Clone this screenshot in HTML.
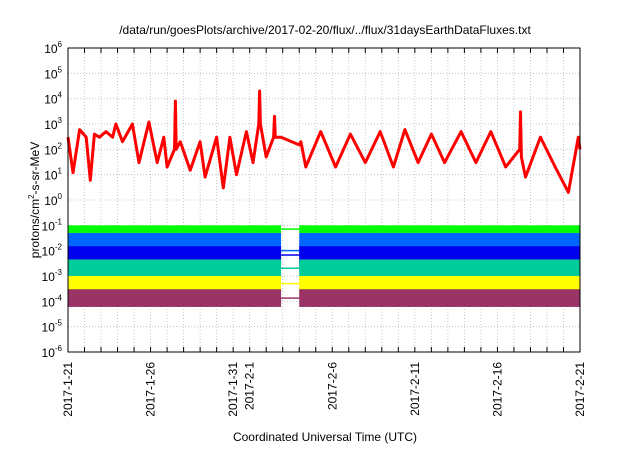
<!DOCTYPE html>
<html><head><meta charset="utf-8"><style>
body{margin:0;background:#fff}
svg{font-family:"Liberation Sans",sans-serif}
</style></head><body>
<svg id="c" width="640" height="448" viewBox="0 0 640 448">
<text x="325" y="34" font-size="12" text-anchor="middle">/data/run/goesPlots/archive/2017-02-20/flux/../flux/31daysEarthDataFluxes.txt</text>
<text transform="translate(39,200) rotate(-90)" font-size="12" text-anchor="middle">protons/cm<tspan dy="-5" font-size="8">2</tspan><tspan dy="5">-s-sr-MeV</tspan></text>
<text x="325" y="441" font-size="12" text-anchor="middle">Coordinated Universal Time (UTC)</text>
<g id="grid"></g><g id="bands"></g><g id="series"></g><g id="axes"></g>
</svg>
<script>
const redT=[0,0.3,0.7,1.1,1.35,1.6,1.9,2.3,2.7,2.9,3.3,3.9,4.3,4.9,5.4,5.8,6,6.45,6.5,6.55,6.8,7.4,8,8.3,9,9.4,9.8,10.2,10.8,11.2,11.55,11.6,11.65,12,12.45,12.5,12.55,12.9,14,14.1,14.4,15.3,16.2,17.1,18,18.9,19.7,20.4,21.2,22,22.8,23.8,24.7,25.6,26.5,27.35,27.4,27.45,27.7,28.6,29.5,30.3,30.9,31];
const redV=[300,12,600,300,6,400,300,500,300,1000,200,1000,30,1200,30,300,20,100,8000,100,200,15,200,8,300,3,300,10,500,30,1000,20000,1000,50,300,2000,300,300,150,200,20,500,20,400,30,500,20,600,30,400,30,500,30,500,20,100,3000,50,8,300,20,2,300,100];
const bandNames=["green","light-blue","dark-blue","teal","yellow","purple"];
const bandColors=["#00ff00","#0066ff","#0000ee","#00cc99","#ffff00","#993366"];
const bandTop=[0.1,0.05,0.015,0.0045,0.001,0.0003];
const bandBottom=[0.05,0.002,0.003,0.0009,0.00025,0.00006];
const gapStart=12.9, gapEnd=14;
const xTickDays=[0,5,10,11,16,21,26,31];
const xTickLabels=["2017-1-21","2017-1-26","2017-1-31","2017-2-1","2017-2-6","2017-2-11","2017-2-16","2017-2-21"];
const yExps=[-6,-5,-4,-3,-2,-1,0,1,2,3,4,5,6];
const NS="http://www.w3.org/2000/svg";
const L=68,R=580,T=48,B=352;
const x=d=>L+(R-L)*d/31;
const y=v=>B-(B-T)*(Math.log10(v)+6)/12;
function mk(p,t,a){const e=document.createElementNS(NS,t);for(const k in a)e.setAttribute(k,a[k]);document.getElementById(p).appendChild(e);return e;}
for(let d=0;d<=31;d++){
 const g=mk('grid','line',{x1:x(d),x2:x(d),y1:T,y2:B,stroke:'#bbb','stroke-dasharray':'1,2','stroke-width':0.8});
 
 
 const t1=mk('axes','line',{x1:x(d),x2:x(d),y1:B,y2:B-5,stroke:'#000'});
 
 
 const t2=mk('axes','line',{x1:x(d),x2:x(d),y1:T,y2:T+5,stroke:'#000'});
 
 
}
yExps.forEach(e=>{
 const v=Math.pow(10,e);
 const g=mk('grid','line',{x1:L,x2:R,y1:y(v),y2:y(v),stroke:'#bbb','stroke-dasharray':'1,2','stroke-width':0.8});
 
 
 const t=mk('axes','text',{x:L-6,y:y(v)+5,'font-size':12,'text-anchor':'end'});
 
 
 t.innerHTML='10<tspan dy="-6" font-size="8">'+e+'</tspan>';
});
bandNames.forEach((n,i)=>{
 [[0,gapStart],[gapEnd,31]].forEach(([a,b])=>{
  const r=mk('bands','rect',{x:x(a),width:x(b)-x(a),y:y(bandTop[i]),height:y(bandBottom[i])-y(bandTop[i]),fill:bandColors[i]});
  
  
 });
 const c=mk('bands','line',{x1:x(gapStart),x2:x(gapEnd),y1:y(Math.sqrt(bandTop[i]*bandBottom[i])),y2:y(Math.sqrt(bandTop[i]*bandBottom[i])),stroke:bandColors[i],'stroke-width':1.5});
 
 
});
const pts=redT.map((t,i)=>x(t).toFixed(1)+','+y(redV[i]).toFixed(1)).join(' ');
const pl=mk('series','polyline',{points:pts,fill:'none',stroke:'#ff0000','stroke-width':3,'stroke-linejoin':'round'});


const fr=mk('axes','rect',{x:L,y:T,width:R-L,height:B-T,fill:'none',stroke:'#000'});


xTickDays.forEach((d,i)=>{
 const t=mk('axes','text',{transform:`translate(${x(d)+4},${B+10}) rotate(-90)`,'font-size':12,'text-anchor':'end'});
 
 
 t.textContent=xTickLabels[i];
});
</script>
</body></html>
